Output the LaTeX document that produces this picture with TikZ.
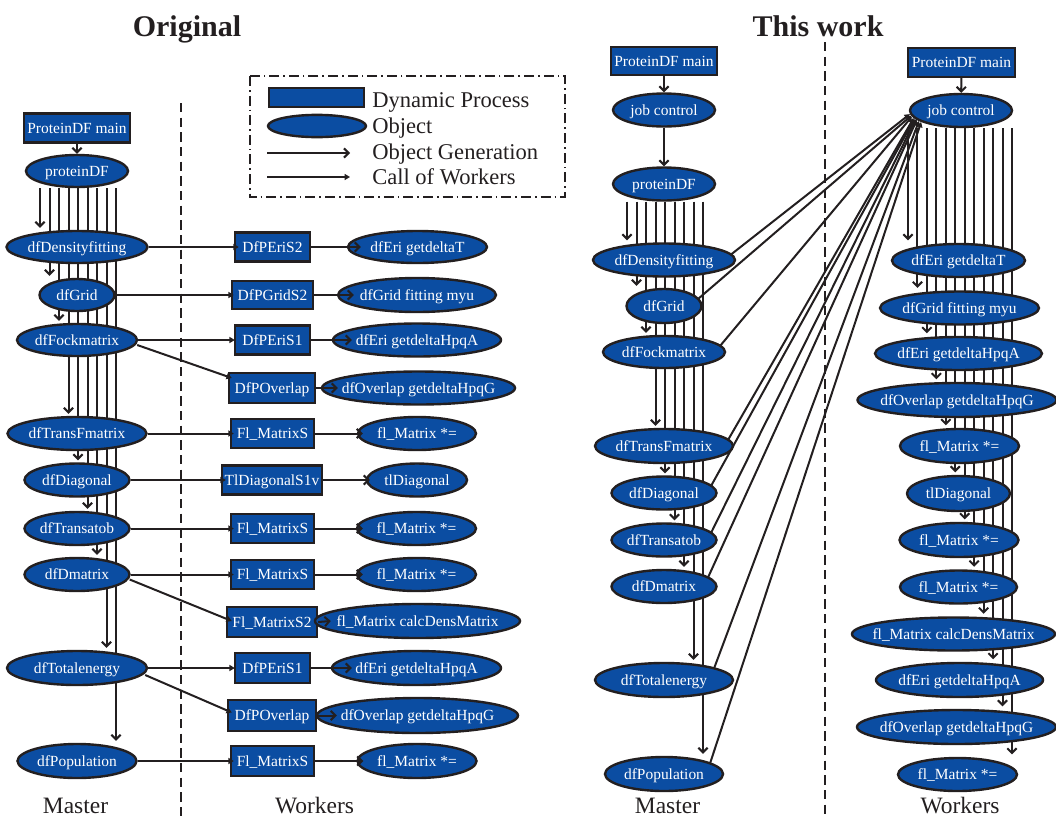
\documentclass[tikz,border=0pt]{standalone}
\usepackage{fontspec}
\setmainfont{Liberation Serif}
\usetikzlibrary{shapes.geometric,arrows.meta,calc,backgrounds}
\definecolor{myblue}{RGB}{11,77,162}
\definecolor{linec}{RGB}{35,31,32}
\newcommand\nfont{\fontsize{11.6}{12}\selectfont}
\newcommand\legfont{\fontsize{16.9}{18}\selectfont}
\newcommand\titfont{\fontsize{22.5}{24}\selectfont\bfseries}
\newcommand\sidefont{\fontsize{17.6}{19}\selectfont}
\begin{document}
\begin{tikzpicture}[x=0.75pt,y=-0.75pt,
 lbl/.style={execute at begin node={\hbox to 0pt\bgroup\hss}, execute at end node={\hss\egroup}, text height=10pt, text depth=1.8pt, inner sep=0pt, font=\nfont, text=white},
 obj/.style={lbl, ellipse, draw=linec, fill=myblue, line width=1.8pt, minimum width=#1*0.75pt, minimum height=32*0.75pt},
 proc/.style={lbl, rectangle, draw=linec, fill=myblue, line width=1.8pt, minimum width=#1*0.75pt, minimum height=29*0.75pt},
 gen/.style={draw=linec, line width=1.5pt, -{Straight Barb[length=3.5pt,width=7pt]}},
 call/.style={draw=linec, line width=1.5pt, -{Triangle[length=4pt,width=4.5pt]}},
 sep/.style={draw=linec, line width=1.6pt, dash pattern=on 7pt off 4pt},
 legbox/.style={draw=linec, line width=1.5pt, dash pattern=on 7.5pt off 3pt on 1.2pt off 3pt},
 legtxt/.style={font=\legfont, anchor=base west, inner sep=0pt, text=linec},
 tit/.style={font=\titfont, anchor=base, inner sep=0pt, text=linec},
 side/.style={font=\sidefont, anchor=base, inner sep=0pt, text=linec},
]
\useasboundingbox (0,0) rectangle (1056,818);

% titles and side labels
\node[tit] (tOrig) at (187,36) {Original};
\node[tit] (tWork) at (818,36) {This work};
\node[side] (sLM) at (75.5,813) {Master};
\node[side] (sLW) at (314.5,813) {Workers};
\node[side] (sRM) at (667.5,813) {Master};
\node[side] (sRW) at (960,813) {Workers};

% separators
\coordinate (dA1) at (181,103); \coordinate (dA2) at (181,818);
\coordinate (dB1) at (825,42);  \coordinate (dB2) at (825,818);
\draw[sep] (dA1) -- (dA2);
\draw[sep] (dB1) -- (dB2);

% legend
\draw[legbox] (250,76) rectangle (565,197);
\node[proc=95, minimum height=19*0.75pt] (lgP) at (316.5,97.5) {};
\node[obj=98, minimum height=22*0.75pt] (lgO) at (317,126) {};
\coordinate (lgA1) at (267,153); \coordinate (lgA2) at (350,153);
\coordinate (lgB1) at (267,177); \coordinate (lgB2) at (350,177);
\draw[gen] (lgA1) -- (lgA2);
\draw[call] (lgB1) -- (lgB2);
\node[legtxt] (lgt1) at (372,107) {Dynamic Process};
\node[legtxt] (lgt2) at (372,133) {Object};
\node[legtxt] (lgt3) at (372,159) {Object Generation};
\node[legtxt] (lgt4) at (372,184) {Call of Workers};

% ---------- Original: master ----------
\node[proc=106] (LPmain) at (77,128) {ProteinDF main};
\node[obj=102] (LprotDF) at (77,171) {proteinDF};
\node[obj=141] (Ldens) at (77,247) {dfDensityfitting};
\node[obj=75]  (Lgrid) at (77,295) {dfGrid};
\node[obj=120] (Lfock) at (77,340) {dfFockmatrix};
\node[obj=139, minimum height=33*0.75pt] (Ltransf) at (77,433.5) {dfTransFmatrix};
\node[obj=105, minimum height=33*0.75pt] (Ldiag) at (77,480) {dfDiagonal};
\node[obj=105, minimum height=33*0.75pt] (Ltransa) at (77,528.5) {dfTransatob};
\node[obj=105, minimum height=33*0.75pt] (Ldmat) at (77,574.5) {dfDmatrix};
\node[obj=140, minimum height=34*0.75pt] (Ltotal) at (77,668) {dfTotalenergy};
\node[obj=119, minimum height=34*0.75pt] (Lpop) at (77,761) {dfPopulation};

% ---------- Original: workers ----------
\node[proc=75] (Wp1) at (272.5,247) {DfPEriS2};
\node[proc=81, minimum height=28*0.75pt] (Wp2) at (272.5,295) {DfPGridS2};
\node[proc=75] (Wp3) at (272.5,340) {DfPEriS1};
\node[proc=86, minimum height=30*0.75pt] (Wp4) at (272,388) {DfPOverlap};
\node[proc=83] (Wp5) at (272.5,433.5) {Fl\_MatrixS};
\node[proc=100] (Wp6) at (272,480) {TlDiagonalS1v};
\node[proc=83] (Wp7) at (272.5,528.5) {Fl\_MatrixS};
\node[proc=83] (Wp8) at (272.5,574.5) {Fl\_MatrixS};
\node[proc=90, minimum height=30*0.75pt] (Wp9) at (272,622) {Fl\_MatrixS2};
\node[proc=75, minimum height=30*0.75pt] (Wp10) at (272.5,668) {DfPEriS1};
\node[proc=88, minimum height=31*0.75pt] (Wp11) at (272,715.5) {DfPOverlap};
\node[proc=83, minimum height=30*0.75pt] (Wp12) at (272.5,761) {Fl\_MatrixS};

\node[obj=139] (Wo1) at (417.5,247) {dfEri getdeltaT};
\node[obj=158, minimum height=34*0.75pt] (Wo2) at (417,295) {dfGrid fitting myu};
\node[obj=168, minimum height=33*0.75pt] (Wo3) at (417,340) {dfEri getdeltaHpqA};
\node[obj=193, minimum height=33*0.75pt] (Wo4) at (418.5,388) {dfOverlap getdeltaHpqG};
\node[obj=118, minimum height=33*0.75pt] (Wo5) at (417,433.5) {fl\_Matrix *=};
\node[obj=100, minimum height=33*0.75pt] (Wo6) at (417,480) {tlDiagonal};
\node[obj=119, minimum height=33*0.75pt] (Wo7) at (416.5,528.5) {fl\_Matrix *=};
\node[obj=119, minimum height=33*0.75pt] (Wo8) at (416.5,574.5) {fl\_Matrix *=};
\node[obj=205, minimum height=34*0.75pt] (Wo9) at (417.5,621) {fl\_Matrix calcDensMatrix};
\node[obj=169, minimum height=34*0.75pt] (Wo10) at (416.5,668) {dfEri getdeltaHpqA};
\node[obj=201, minimum height=35*0.75pt] (Wo11) at (417.5,715.5) {dfOverlap getdeltaHpqG};
\node[obj=119, minimum height=34*0.75pt] (Wo12) at (417,761) {fl\_Matrix *=};

% ---------- This work: master ----------
\node[proc=106, minimum height=28*0.75pt] (RPmain) at (664,61) {ProteinDF main};
\node[obj=102, minimum height=33*0.75pt] (Rjc) at (664,110) {job control};
\node[obj=102, minimum height=33*0.75pt] (RprotDF) at (664,184) {proteinDF};
\node[obj=142, minimum height=33*0.75pt] (Rdens) at (664,260) {dfDensityfitting};
\node[obj=75, minimum height=34*0.75pt]  (Rgrid) at (664,306) {dfGrid};
\node[obj=122] (Rfock) at (664,352) {dfFockmatrix};
\node[obj=138, minimum height=34*0.75pt] (Rtransf) at (664,446) {dfTransFmatrix};
\node[obj=105, minimum height=33*0.75pt] (Rdiag) at (664,493) {dfDiagonal};
\node[obj=105, minimum height=33*0.75pt] (Rtransa) at (664,540) {dfTransatob};
\node[obj=105, minimum height=33*0.75pt] (Rdmat) at (664,586.5) {dfDmatrix};
\node[obj=138, minimum height=34*0.75pt] (Rtotal) at (664,680) {dfTotalenergy};
\node[obj=118, minimum height=34*0.75pt] (Rpop) at (664,774) {dfPopulation};

% ---------- This work: workers ----------
\node[proc=107] (RWmain) at (961.5,62.5) {ProteinDF main};
\node[obj=102, minimum height=33*0.75pt] (RWjc) at (961,110.5) {job control};
\node[obj=133, minimum height=33*0.75pt] (R1) at (958.5,260.5) {dfEri getdeltaT};
\node[obj=159, minimum height=33*0.75pt] (R2) at (959.5,308) {dfGrid fitting myu};
\node[obj=167, minimum height=33*0.75pt] (R3) at (958.5,353.5) {dfEri getdeltaHpqA};
\node[obj=199, minimum height=34*0.75pt] (R4) at (957,400) {dfOverlap getdeltaHpqG};
\node[obj=119, minimum height=34*0.75pt] (R5) at (959.5,446) {fl\_Matrix *=};
\node[obj=103, minimum height=35*0.75pt] (R6) at (958.5,493.5) {tlDiagonal};
\node[obj=119, minimum height=34*0.75pt] (R7) at (959,540) {fl\_Matrix *=};
\node[obj=117, minimum height=33*0.75pt] (R8) at (958.5,587) {fl\_Matrix *=};
\node[obj=203, minimum height=33*0.75pt] (R9) at (953.5,634) {fl\_Matrix calcDensMatrix};
\node[obj=167, minimum height=34*0.75pt] (R10) at (959.5,680) {dfEri getdeltaHpqA};
\node[obj=199, minimum height=34*0.75pt] (R11) at (956.5,727) {dfOverlap getdeltaHpqG};
\node[obj=119, minimum height=33*0.75pt] (R12) at (957.5,774.5) {fl\_Matrix *=};

% ---------- generation arrows behind objects ----------
\begin{pgfonlayer}{background}
\foreach \t [count=\k from 0] in {Ldens,Lgrid,Lfock,Ltransf,Ldiag,Ltransa,Ldmat,Ltotal,Lpop} {
  \coordinate (lx) at ({40+9.5*\k},0);
  \draw[gen] (LprotDF.south -| lx) -- ($(\t.north -| lx)+(0,-2)$);
}
\foreach \t [count=\k from 0] in {Rdens,Rgrid,Rfock,Rtransf,Rdiag,Rtransa,Rdmat,Rtotal,Rpop} {
  \coordinate (rx) at ({627+9.5*\k},0);
  \draw[gen] (RprotDF.south -| rx) -- ($(\t.north -| rx)+(0,-2)$);
}
\foreach \t [count=\k from 0] in {R1,R2,R3,R4,R5,R6,R7,R8,R9,R10,R11,R12} {
  \coordinate (wx) at ({908+9.45*\k},0);
  \draw[gen] (RWjc.south -| wx) -- ($(\t.north -| wx)+(0,-2.5)$);
}
\end{pgfonlayer}

\draw[gen] (LPmain) -- (LprotDF);
\draw[gen] (RPmain) -- (Rjc);
\draw[gen] (Rjc) -- (RprotDF);
\draw[gen] (RWmain) -- (RWjc);

% ---------- calls of workers (original) ----------
\draw[call] (Ldens.east) -- ($(Wp1.west)+(5,0)$);
\draw[call] (Lgrid.east) -- ($(Wp2.west)+(3,0)$);
\draw[call] (Lfock.east) -- ($(Wp3.west)+(1,0)$);
\draw[call] ($(Lfock.east)+(-1,5)$) -- ($(Wp4.west)+(4,-10)$);
\draw[call] (Ltransf.east) -- ($(Wp5.west)+(4,0)$);
\draw[call] (Ldiag.east) -- ($(Wp6.west)+(5,0)$);
\draw[call] (Ltransa.east) -- ($(Wp7.west)+(4,0)$);
\draw[call] (Ldmat.east) -- ($(Wp8.west)+(4,0)$);
\draw[call] ($(Ldmat.east)+(-1,5)$) -- ($(Wp9.west)+(6,-1)$);
\draw[call] (Ltotal.east) -- ($(Wp10.west)+(1,0)$);
\draw[call] ($(Ltotal.east)+(-3,7)$) -- ($(Wp11.west)+(5,-3)$);
\draw[call] (Lpop.east) -- ($(Wp12.west)+(4,0)$);

% ---------- object generation by workers (original) ----------
\draw[gen] (Wp1.east) -- ($(Wo1.west)+(14,0)$);
\draw[gen] (Wp2.east) -- ($(Wo2.west)+(17,0)$);
\draw[gen] (Wp3.east) -- ($(Wo3.west)+(20,0)$);
\draw[gen] (Wp4.east) -- ($(Wo4.west)+(17,0)$);
\draw[gen] (Wp5.east) -- ($(Wo5.west)+(6,0)$);
\draw[gen] (Wp6.east) -- ($(Wo6.west)+(4,0)$);
\draw[gen] (Wp7.east) -- ($(Wo7.west)+(7,0)$);
\draw[gen] (Wp8.east) -- ($(Wo8.west)+(7,0)$);
\draw[gen] (Wp9.east) -- ($(Wo9.west)+(17,0)$);
\draw[gen] (Wp10.east) -- ($(Wo10.west)+(21,0)$);
\draw[gen] (Wp11.east) -- ($(Wo11.west)+(21,0)$);
\draw[gen] (Wp12.east) -- ($(Wo12.west)+(7,0)$);

% ---------- calls of workers (this work) ----------
\draw[call] ($(Rdens.center)+(67,-5.5)$) -- (RWjc.184);
\draw[call] ($(Rgrid.center)+(34,-7)$) -- (RWjc.186);
\draw[call] ($(Rfock.center)+(56,-6)$) -- (RWjc.187);
\draw[call] ($(Rtransf.center)+(64,-6)$) -- (RWjc.189);
\draw[call] ($(Rdiag.center)+(47,-7)$) -- (RWjc.190);
\draw[call] ($(Rtransa.center)+(47,-7)$) -- (RWjc.191);
\draw[call] ($(Rdmat.center)+(44,-9)$) -- (RWjc.192);
\draw[call] ($(Rtotal.center)+(50,-11.5)$) -- (RWjc.194);
\draw[call] ($(Rpop.center)+(46,-10.5)$) -- (RWjc.196);
\end{tikzpicture}
\end{document}
